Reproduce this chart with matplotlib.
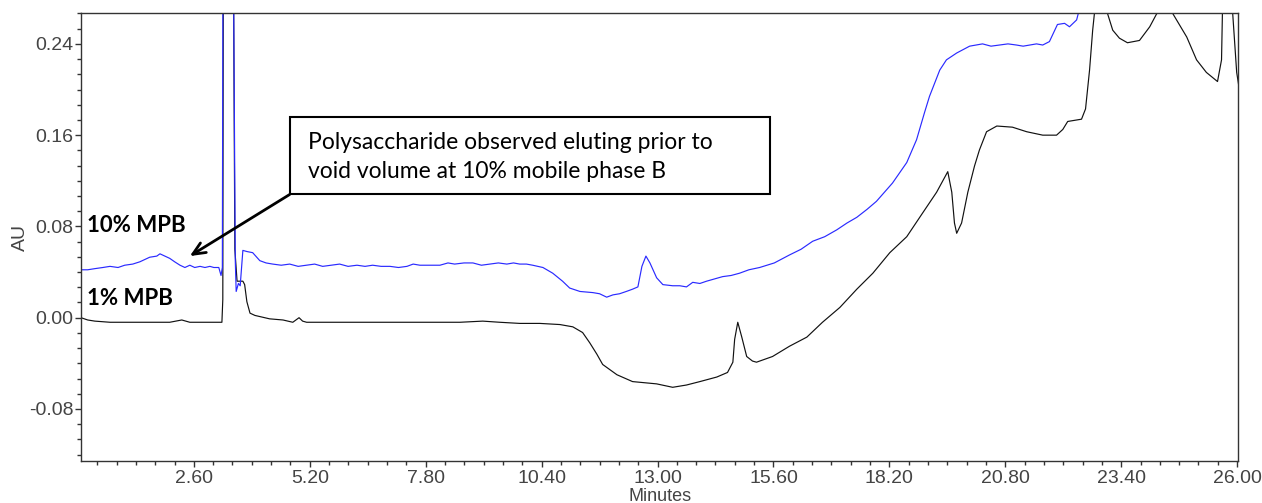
import numpy as np
import matplotlib.pyplot as plt
from matplotlib.patches import Rectangle
from matplotlib.ticker import MultipleLocator

# 10% mobile phase B trace (minutes, AU)
blue_min = [0.07, 0.22, 0.38, 0.56, 0.72, 0.90, 1.05, 1.23, 1.39, 1.61, 1.77, 1.84, 1.95, 2.06,
            2.17, 2.29, 2.40, 2.51, 2.62, 2.74, 2.85, 2.96, 3.05, 3.16, 3.21, 3.24, 3.26, 3.37,
            3.49, 3.53, 3.55, 3.60, 3.64, 3.70, 3.79, 3.92, 4.01, 4.08, 4.22, 4.37, 4.56, 4.75,
            4.94, 5.13, 5.31, 5.49, 5.68, 5.87, 6.06, 6.26, 6.44, 6.61, 6.80, 7.00, 7.19, 7.38,
            7.52, 7.67, 7.90, 8.12, 8.30, 8.45, 8.66, 8.86, 9.05, 9.24, 9.43, 9.62, 9.77, 9.91,
            10.06, 10.20, 10.43, 10.65, 10.87, 11.03, 11.26, 11.55, 11.70, 11.86, 12.00, 12.15,
            12.30, 12.44, 12.56, 12.65, 12.74, 12.83, 12.98, 13.12, 13.34, 13.50, 13.65, 13.79,
            13.95, 14.10, 14.28, 14.46, 14.65, 14.84, 15.05, 15.29, 15.62, 15.96, 16.22, 16.48,
            16.75, 17.02, 17.25, 17.47, 17.70, 17.91, 18.27, 18.59, 18.81, 18.99, 19.10, 19.33,
            19.48, 19.71, 20.00, 20.29, 20.48, 20.67, 20.86, 21.05, 21.20, 21.35, 21.50, 21.64,
            21.79, 21.97, 22.13, 22.24, 22.40, 22.44, 22.58]
blue_au = [0.042, 0.042, 0.043, 0.044, 0.045, 0.044, 0.046, 0.047, 0.049, 0.053, 0.054, 0.056,
           0.054, 0.052, 0.049, 0.046, 0.044, 0.046, 0.044, 0.045, 0.044, 0.045, 0.044, 0.044,
           0.037, 0.044, 0.45, 1.2, 0.30, 0.05, 0.023, 0.030, 0.028, 0.059, 0.058, 0.057, 0.053,
           0.050, 0.048, 0.047, 0.046, 0.047, 0.045, 0.046, 0.047, 0.045, 0.046, 0.047, 0.045,
           0.046, 0.045, 0.046, 0.045, 0.045, 0.044, 0.045, 0.047, 0.046, 0.046, 0.046, 0.048,
           0.047, 0.048, 0.048, 0.046, 0.047, 0.048, 0.047, 0.048, 0.047, 0.047, 0.046, 0.044,
           0.039, 0.032, 0.026, 0.023, 0.022, 0.021, 0.018, 0.020, 0.021, 0.023, 0.025, 0.027,
           0.045, 0.054, 0.048, 0.035, 0.029, 0.028, 0.028, 0.027, 0.031, 0.030, 0.032, 0.034,
           0.036, 0.037, 0.039, 0.042, 0.044, 0.048, 0.055, 0.060, 0.067, 0.071, 0.077, 0.083,
           0.088, 0.095, 0.102, 0.118, 0.136, 0.156, 0.180, 0.194, 0.217, 0.226, 0.232, 0.238,
           0.240, 0.238, 0.239, 0.240, 0.239, 0.238, 0.239, 0.240, 0.239, 0.242, 0.257, 0.258,
           0.255, 0.261, 0.267, 0.29]

# 1% mobile phase B trace (minutes, AU)
black_min = [0.07, 0.22, 0.38, 0.72, 1.17, 1.61, 2.06, 2.33, 2.51, 2.96, 3.23, 3.25, 3.27, 3.37,
             3.49, 3.52, 3.57, 3.63, 3.70, 3.74, 3.79, 3.86, 3.97, 4.08, 4.30, 4.60, 4.82, 4.96,
             5.04, 5.13, 5.58, 6.10, 6.61, 7.22, 8.12, 8.57, 9.08, 9.46, 9.91, 10.36, 10.81,
             11.10, 11.32, 11.48, 11.64, 11.77, 12.09, 12.44, 12.98, 13.34, 13.65, 13.95, 14.33,
             14.57, 14.69, 14.73, 14.80, 14.89, 15.00, 15.13, 15.22, 15.58, 15.96, 16.35, 16.70,
             17.09, 17.47, 17.83, 18.21, 18.59, 18.95, 19.26, 19.51, 19.60, 19.66, 19.71, 19.82,
             19.96, 20.11, 20.22, 20.38, 20.61, 20.96, 21.28, 21.64, 21.95, 22.09, 22.20, 22.51,
             22.60, 22.69, 22.76, 22.80, 22.95, 23.09, 23.21, 23.36, 23.54, 23.81, 24.04, 24.19,
             24.37, 24.55, 24.87, 25.09, 25.31, 25.56, 25.65, 25.67, 25.72, 25.90, 25.99, 26.05]
black_au = [0.000, -0.002, -0.003, -0.004, -0.004, -0.004, -0.004, -0.002, -0.004, -0.004,
            -0.004, 0.016, 0.5, 1.5, 0.30, 0.06, 0.032, 0.032, 0.032, 0.029, 0.014, 0.004, 0.002,
            0.001, -0.001, -0.002, -0.004, 0.000, -0.003, -0.004, -0.004, -0.004, -0.004, -0.004,
            -0.004, -0.004, -0.003, -0.004, -0.005, -0.005, -0.006, -0.008, -0.013, -0.022,
            -0.032, -0.041, -0.050, -0.056, -0.058, -0.061, -0.059, -0.056, -0.052, -0.048,
            -0.039, -0.019, -0.004, -0.017, -0.034, -0.038, -0.039, -0.034, -0.025, -0.017,
            -0.004, 0.009, 0.025, 0.039, 0.057, 0.071, 0.092, 0.110, 0.128, 0.110, 0.083, 0.074,
            0.083, 0.110, 0.133, 0.147, 0.163, 0.168, 0.167, 0.163, 0.160, 0.160, 0.165, 0.172,
            0.174, 0.183, 0.217, 0.252, 0.267, 0.40, 0.267, 0.252, 0.245, 0.241, 0.243, 0.255,
            0.266, 0.275, 0.267, 0.246, 0.226, 0.215, 0.207, 0.226, 0.267, 0.40, 0.267, 0.215,
            0.20]

x_ticks = [2.60, 5.20, 7.80, 10.40, 13.00, 15.60, 18.20, 20.80, 23.40, 26.00]
y_ticks = [-0.08, 0.00, 0.08, 0.16, 0.24]

fig = plt.figure(figsize=(12.62, 5.03), dpi=100)
ax = fig.add_axes([0.0642, 0.0835, 0.9168, 0.8905])

ax.plot(black_min, black_au, color='#111111', lw=0.85)
ax.plot(blue_min, blue_au, color='#2a2aff', lw=0.85)

ax.set_xlim(0.07, 26.02)
ax.set_ylim(-0.1256, 0.267)

tick_font = dict(family=['Liberation Sans Narrow', 'Liberation Sans', 'DejaVu Sans'], size=14)
ax.set_xticks(x_ticks)
ax.set_xticklabels(['%.2f' % t for t in x_ticks], color='#444444', **tick_font)
ax.set_yticks(y_ticks)
ax.set_yticklabels(['%.2f' % t for t in y_ticks], color='#444444', **tick_font)
ax.xaxis.set_minor_locator(MultipleLocator(2.6 / 6))
ax.yaxis.set_minor_locator(MultipleLocator(0.08 / 6))
ax.tick_params(which='major', length=4, width=1, color='#333333')
ax.tick_params(axis='y', which='major', pad=1.5)
ax.tick_params(axis='x', which='major', pad=2.5)
ax.tick_params(which='minor', length=3, width=1, color='#333333')
for sp in ax.spines.values():
    sp.set_color('#333333')
    sp.set_linewidth(1.0)

ax.set_ylabel('AU', color='#444444', **tick_font)
ax.yaxis.set_label_coords(-0.045, 0.5)
fig.text(0.523, -0.004, 'Minutes', color='#444444', ha='center', va='bottom',
         family=['Liberation Sans Narrow', 'Liberation Sans', 'DejaVu Sans'], size=13)

# trace labels
ax.text(0.2, 0.081, '10% MPB', family='Lato', weight='bold', size=16, va='center')
ax.text(0.2, 0.017, '1% MPB', family='Lato', weight='bold', size=16, va='center')

# callout box with arrow to the early-eluting hump
ax.add_patch(Rectangle((4.75, 0.108), 10.77, 0.068, fill=False, ec='black', lw=1.5, zorder=5))
ax.text(5.16, 0.154, 'Polysaccharide observed eluting prior to', family='Lato', size=16.5,
        va='center', zorder=6)
ax.text(5.16, 0.128, 'void volume at 10% mobile phase B', family='Lato', size=16.5,
        va='center', zorder=6)
ax.annotate('', xy=(2.51, 0.054), xytext=(4.75, 0.108),
            arrowprops=dict(arrowstyle='->,head_length=0.9,head_width=0.4', color='black',
                            lw=2, shrinkA=0, shrinkB=0))

fig.savefig('out.png', dpi=100)
